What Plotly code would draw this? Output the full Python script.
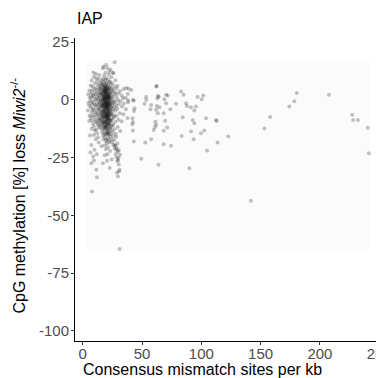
import plotly.graph_objects as go

# ---- data: (consensus mismatch sites per kb, CpG methylation loss %) ----
dense_core = [
    (14.2, 6.1), (14.5, 3.4), (13.9, 0.8), (14.4, -1.5), (14.0, -4.2), (14.6, -7.9), (14.1, -10.3),
    (14.8, 7.5), (15.0, 4.9), (14.7, 2.2), (15.1, -0.3), (14.9, -2.8), (15.2, -5.6), (14.8, -8.8), (15.0, -11.6),
    (15.3, 5.3), (15.6, 2.9), (15.4, 0.1), (15.7, -2.1), (15.2, -4.7), (15.5, -6.9), (15.8, -9.5),
    (15.9, 8.2), (16.1, 6.4), (15.8, 3.7), (16.2, 1.2), (16.0, -1.1), (15.7, -3.3), (16.1, -5.9), (16.3, -8.1), (15.9, -10.7), (16.2, -12.9),
    (16.4, 7.0), (16.6, 4.4), (16.3, 2.0), (16.7, -0.4), (16.5, -2.5), (16.8, -4.8), (16.4, -7.2), (16.6, -9.7), (16.5, -14.1),
    (16.9, 9.1), (17.2, 5.8), (16.8, 3.1), (17.1, 0.6), (17.0, -1.8), (17.3, -3.9), (16.9, -6.3), (17.2, -8.6), (17.0, -11.2), (17.3, -15.5),
    (17.5, 6.7), (17.8, 4.0), (17.4, 1.6), (17.7, -0.9), (17.6, -3.0), (17.9, -5.4), (17.5, -7.6), (17.8, -10.1), (17.6, -12.4), (17.4, -17.2),
    (18.0, 10.4), (18.3, 7.8), (17.9, 5.1), (18.2, 2.6), (18.1, 0.2), (18.4, -2.2), (18.0, -4.5), (18.3, -6.8), (17.9, -9.2), (18.2, -11.8), (18.1, -14.6), (18.4, -19.8),
    (18.6, 8.6), (18.9, 5.9), (18.5, 3.4), (18.8, 1.0), (18.7, -1.3), (19.0, -3.6), (18.6, -5.8), (18.9, -8.3), (18.5, -10.6), (18.8, -13.1), (18.7, -16.3),
    (19.1, 11.8), (19.4, 6.9), (19.0, 4.3), (19.3, 1.9), (19.2, -0.6), (19.5, -2.9), (19.1, -5.1), (19.4, -7.4), (19.0, -9.8), (19.3, -12.2), (19.2, -15.0), (19.5, -21.4),
    (19.7, 9.4), (20.0, 6.0), (19.6, 3.0), (19.9, 0.5), (19.8, -1.9), (20.1, -4.1), (19.7, -6.5), (20.0, -8.9), (19.6, -11.3), (19.9, -13.9), (19.8, -17.9),
    (20.2, 7.3), (20.5, 4.8), (20.1, 2.3), (20.4, -0.1), (20.3, -2.6), (20.6, -4.9), (20.2, -7.1), (20.5, -9.6), (20.1, -12.0), (20.4, -14.8), (20.3, -19.0),
    (20.8, 13.7), (21.1, 8.8), (20.7, 5.5), (21.0, 2.8), (20.9, 0.4), (21.2, -1.6), (20.8, -3.8), (21.1, -6.2), (20.7, -8.4), (21.0, -10.9), (20.9, -13.4), (21.2, -16.7), (20.8, -23.5),
    (21.3, 6.3), (21.6, 3.9), (21.2, 1.4), (21.5, -1.0), (21.4, -3.4), (21.7, -5.7), (21.3, -8.0), (21.6, -10.4), (21.2, -12.7), (21.5, -15.3), (21.4, -20.6),
    (21.9, 10.9), (22.2, 7.6), (21.8, 4.5), (22.1, 2.0), (22.0, -0.4), (22.3, -2.7), (21.9, -5.0), (22.2, -7.3), (21.8, -9.9), (22.1, -11.9), (22.0, -14.3), (22.3, -17.6),
    (22.4, 5.6), (22.7, 3.2), (22.3, 0.8), (22.6, -1.4), (22.5, -3.7), (22.8, -6.0), (22.4, -8.5), (22.7, -10.8), (22.3, -13.6), (22.6, -18.4),
    (23.0, 8.0), (23.3, 4.9), (22.9, 2.5), (23.2, 0.0), (23.1, -2.3), (23.4, -4.6), (23.0, -6.7), (23.3, -9.3), (22.9, -12.3), (23.2, -15.8), (23.1, -22.1),
    (23.6, 6.6), (23.9, 3.6), (23.5, 1.1), (23.8, -1.2), (23.7, -3.5), (24.0, -5.9), (23.6, -8.7), (23.9, -11.5), (23.5, -14.9),
    (24.1, 9.8), (24.4, 5.0), (24.0, 2.1), (24.3, -0.7), (24.2, -3.1), (24.5, -6.4), (24.1, -9.0), (24.4, -13.0), (24.2, -16.9),
    (17.3, 2.4), (18.5, -0.3), (19.6, 1.2), (20.6, -1.1), (21.7, 0.9), (18.1, -3.1), (19.2, 3.7), (20.3, 1.7),
    (21.1, -2.4), (17.8, -1.7), (19.9, -3.4), (22.0, 1.5), (18.7, 4.6), (20.8, 3.9), (19.4, -5.8), (21.5, -4.3),
    (17.0, -2.6), (22.5, -1.9), (18.9, -7.5), (20.0, -6.1), (21.9, -6.7), (19.5, 5.2), (20.6, -8.0), (18.3, 0.9),
    (18.2, 3.9), (19.3, -1.2), (20.4, 2.9), (21.4, -0.6), (22.3, -4.9), (17.6, 0.3), (18.8, -4.4), (19.7, -2.2),
    (20.9, -5.3), (21.8, -2.0), (22.6, 0.4), (17.2, -5.0), (18.4, 5.6), (19.0, 2.5), (20.2, -3.0), (21.2, 4.7),
    (22.1, -8.2), (18.6, -9.5), (19.8, -9.9), (20.7, 0.9), (21.6, 2.2), (17.9, -7.0), (19.1, 0.0), (20.5, -6.9),
    (21.0, -8.9), (18.0, 1.3), (19.4, 4.1), (20.1, -1.5), (21.5, -7.1), (22.4, -10.2), (18.9, -11.6), (20.3, -11.0),
]

left_wing = [
    (4.5, 2.3), (4.8, -1.2), (4.3, -4.6),
    (5.6, 4.1), (5.9, 0.9), (5.4, -2.4), (5.8, -6.8), (5.5, -9.1),
    (6.7, 6.2), (6.9, 2.7), (6.5, -0.5), (6.8, -3.3), (6.6, -7.7),
    (7.5, 8.4), (7.7, 3.8), (7.3, 1.0), (7.6, -2.0), (7.4, -5.2), (7.8, -8.8), (7.5, -12.5),
    (8.4, 5.7), (8.6, 2.1), (8.2, -0.8), (8.5, -3.9), (8.3, -6.6), (8.7, -10.2),
    (9.3, 9.9), (9.5, 4.6), (9.1, 1.7), (9.4, -1.5), (9.2, -4.4), (9.6, -7.3), (9.3, -11.4), (9.5, -15.2),
    (10.2, 7.1), (10.4, 3.3), (10.0, 0.4), (10.3, -2.3), (10.1, -5.5), (10.5, -8.5), (10.2, -13.3),
    (11.1, 11.2), (11.3, 5.2), (10.9, 2.4), (11.2, -0.2), (11.0, -3.0), (11.4, -6.1), (11.1, -9.4), (11.3, -12.8), (11.0, -17.0),
    (12.0, 8.0), (12.2, 4.2), (11.8, 1.3), (12.1, -1.7), (11.9, -4.3), (12.3, -7.0), (12.0, -10.0), (12.2, -14.4),
    (12.9, 6.5), (13.1, 2.9), (12.7, 0.3), (13.0, -2.4), (12.8, -5.3), (13.2, -8.2), (12.9, -11.0), (13.1, -16.2),
    (13.6, 9.2), (13.8, 4.7), (13.4, 1.8), (13.7, -0.9), (13.5, -3.6), (13.9, -6.4), (13.6, -9.0), (13.8, -12.1),
]

right_side = [
    (25.0, 7.2), (25.2, 3.5), (24.8, 0.6), (25.1, -2.2), (24.9, -5.0), (25.3, -8.0), (25.0, -11.1), (25.2, -14.0), (24.9, -18.2),
    (25.8, 11.6), (26.0, 4.4), (25.7, 1.5), (25.9, -1.4), (25.6, -4.0), (26.1, -7.5), (25.8, -10.5), (26.0, -15.6), (25.7, -19.5),
    (26.7, 5.9), (26.9, 2.6), (26.5, -0.3), (26.8, -3.2), (26.6, -6.6), (26.9, -12.6), (26.7, -17.4), (26.8, -21.0),
    (27.6, 8.5), (27.8, 3.0), (27.4, -1.0), (27.7, -4.7), (27.5, -9.5), (27.8, -14.7), (27.6, -19.9), (27.7, -23.4),
    (28.5, 4.8), (28.7, 1.2), (28.3, -2.5), (28.6, -7.0), (28.4, -16.0), (28.7, -20.8), (28.5, -24.8),
    (29.4, 6.0), (29.6, 0.0), (29.2, -3.8), (29.5, -11.7), (29.3, -18.9), (29.6, -22.5), (29.4, -26.5),
    (30.3, 2.8), (30.5, -1.9), (30.1, -8.6), (30.4, -21.8), (30.2, -25.0), (30.5, -31.0),
    (31.5, 3.9), (31.7, -0.6), (31.3, -5.8), (31.6, -13.5), (31.4, -23.7),
    (33.0, 1.9), (33.2, -2.9), (32.8, -9.3),
    (34.5, 4.7), (34.7, -1.6), (34.3, -6.2),
    (36.2, 0.9), (36.4, -4.1),
    (38.0, 2.6), (38.2, -0.2), (37.8, -7.8),
]

upper_points = [
    (11.5, 9.4), (17.1, 13.7), (25.5, 11.6), (26.9, 16.3), (17.6, 14.4),
    (22.5, 12.2), (14.0, 10.8), (19.8, 15.1), (9.0, 11.9), (23.5, 13.0),
]

lower_tail = [
    (7.3, -19.5), (10.0, -21.6), (8.7, -24.5), (7.3, -27.4), (11.5, -30.3), (12.0, -33.5), (17.0, -27.4),
    (22.7, -29.5), (29.7, -26.0), (28.3, -21.6), (29.7, -33.2), (31.1, -30.3), (26.9, -19.5), (19.9, -17.3),
    (21.3, -14.4), (7.8, -39.7), (31.1, -64.6), (6.5, -22.8), (9.5, -26.2), (18.5, -24.0), (15.8, -20.1),
    (24.5, -25.8), (13.5, -18.5), (20.5, -26.3), (30.5, -28.0), (28.8, -31.5), (6.2, -15.4), (11.8, -23.5),
]

sparse_points = [
    (36.7, 5.1), (40.9, 4.3), (33.9, 0.7), (42.3, 0.0), (43.7, -3.6), (38.7, 4.8), (38.3, -1.0),
    (43.1, -0.3), (43.3, -4.8), (42.0, -8.0), (42.4, -9.6), (41.8, -10.5), (42.3, -13.3), (43.1, -18.0),
    (49.3, -25.5), (53.5, 1.2), (52.1, -1.7), (57.7, -2.2), (57.1, -4.0), (62.4, 6.0), (63.3, 1.7),
    (63.0, 0.6), (62.4, -2.6), (63.3, -5.8), (64.7, -3.2), (61.3, -9.5), (61.8, -10.8), (61.0, -11.7),
    (59.9, -13.0), (57.7, -17.0), (52.7, -18.5), (63.9, -28.1), (68.3, -19.2), (74.5, -19.9), (68.3, -13.4),
    (71.2, -12.0), (69.5, -9.0), (70.3, -1.4), (71.7, 1.9), (73.9, -4.0), (78.7, -1.7), (82.9, 3.6),
    (85.1, 2.2), (87.1, -1.4), (87.8, -2.6), (91.3, -3.2), (94.1, -4.6), (92.7, -8.7), (94.1, -10.1),
    (84.3, -7.5), (91.3, -13.7), (83.4, -15.6), (93.5, -17.0), (89.9, -29.6), (96.9, 1.2), (101.7, 1.9),
    (100.3, 0.3), (104.0, -7.9), (102.5, -13.3), (99.7, -14.4), (104.8, -21.9), (68.3, -5.8), (68.9, 0.3),
    (53.5, 0.0), (61.9, 5.8), (64.1, 1.4), (70.3, 2.2), (61.9, -4.3), (95.5, -2.9), (112.3, -8.7),
    (112.9, -9.1), (113.7, -18.5), (122.7, -15.9), (153.2, -12.4), (158.0, -7.4), (174.2, -2.9),
    (178.4, -0.6), (180.4, 3.0), (207.6, 2.2), (227.2, -6.4), (228.0, -8.7), (232.0, -8.7),
    (240.3, -12.1), (241.2, -23.1), (141.8, -43.7),
]

x_ticks = [0, 50, 100, 150, 200, 250]
y_ticks = [25, 0, -25, -50, -75, -100]

all_points = dense_core + left_wing + right_side + upper_points + lower_tail + sparse_points
mismatch = [p[0] for p in all_points]
meth_loss = [p[1] for p in all_points]

FONT = "Liberation Sans, Arial, sans-serif"

fig = go.Figure()
fig.add_trace(go.Scatter(
    x=mismatch, y=meth_loss, mode="markers",
    marker=dict(size=4, color="rgba(0,0,0,0.24)", line=dict(width=0)),
    hoverinfo="skip", showlegend=False,
))

# very faint backdrop behind the points (as in the reference rendering)
fig.add_shape(type="rect", xref="x", yref="y", x0=3.4, x1=242, y0=-65.4, y1=17.3,
              fillcolor="#fbfbfb", line=dict(width=0), layer="below")

axis_common = dict(
    showline=True, linecolor="#000000", linewidth=1,
    ticks="outside", ticklen=3, tickwidth=1, tickcolor="#333333",
    tickfont=dict(family=FONT, size=15, color="#4d4d4d"),
    showgrid=False, zeroline=False, automargin=False,
    ticklabeloverflow="allow",
)

# the page body adds an 8px offset, so the figure is 8px smaller than the window
fig.update_layout(
    template="none",
    width=376, height=370,
    margin=dict(l=67, r=0, t=30, b=37, pad=0),
    paper_bgcolor="white", plot_bgcolor="white",
    xaxis=dict(range=[-6.5, 254], tickvals=x_ticks, ticktext=[str(v) for v in x_ticks],
               ticklabelstandoff=-4, **axis_common),
    yaxis=dict(range=[-104.4, 26.8], tickvals=y_ticks, ticktext=[str(v) for v in y_ticks],
               ticklabelstandoff=-1, **axis_common),
    annotations=[
        dict(text="IAP", xref="paper", yref="paper", x=0, y=1, xanchor="left", yanchor="bottom",
             yshift=9, showarrow=False, font=dict(family=FONT, size=16, color="#000000")),
        dict(text="Consensus mismatch sites per kb", xref="paper", yref="paper", x=0.4126, y=0,
             xanchor="center", yanchor="top", yshift=-18, showarrow=False,
             font=dict(family=FONT, size=16, color="#000000")),
        dict(text="CpG methylation [%] loss <i>Miwi2</i><sup>-/-</sup>", xref="paper", yref="paper",
             x=-0.1845, y=0.48, xanchor="center", yanchor="middle", textangle=-90, showarrow=False,
             font=dict(family=FONT, size=16, color="#000000")),
    ],
)

fig.write_html("out.html")
